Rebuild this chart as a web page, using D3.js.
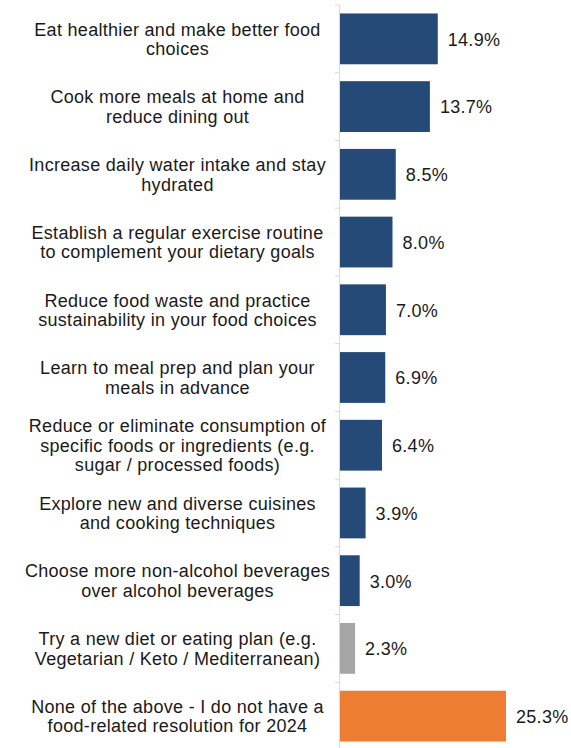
<!DOCTYPE html>
<html>
<head>
<meta charset="utf-8">
<script src="https://cdn.jsdelivr.net/npm/d3@7"></script>
<style>
  html, body { margin: 0; padding: 0; background: #fff; }
  svg { display: block; }
</style>
</head>
<body>
<svg id="chart" width="571" height="748"></svg>
<script>
// Food-related resolutions for 2024 (share of respondents, %)
const categories = [
  "Eat healthier and make better food\nchoices",
  "Cook more meals at home and\nreduce dining out",
  "Increase daily water intake and stay\nhydrated",
  "Establish a regular exercise routine\nto complement your dietary goals",
  "Reduce food waste and practice\nsustainability in your food choices",
  "Learn to meal prep and plan your\nmeals in advance",
  "Reduce or eliminate consumption of\nspecific foods or ingredients (e.g.\nsugar / processed foods)",
  "Explore new and diverse cuisines\nand cooking techniques",
  "Choose more non-alcohol beverages\nover alcohol beverages",
  "Try a new diet or eating plan (e.g.\nVegetarian / Keto / Mediterranean)",
  "None of the above - I do not have a\nfood-related resolution for 2024"
];
const values = [14.9, 13.7, 8.5, 8.0, 7.0, 6.9, 6.4, 3.9, 3.0, 2.3, 25.3];
const groups = ["resolution", "resolution", "resolution", "resolution", "resolution",
                "resolution", "resolution", "resolution", "resolution", "diet", "none"];

const colorFor = d3.scaleOrdinal()
  .domain(["resolution", "diet", "none"])
  .range(["#254a78", "#a6a6a6", "#ed7d31"]);

const svg = d3.select("#chart");
const axisX = 340;
const fontFamily = "'Liberation Sans', Arial, sans-serif";

const x = d3.scaleLinear().domain([0, 25.3]).range([axisX, axisX + 166]);
const y = d3.scaleBand()
  .domain(d3.range(categories.length))
  .range([5, 750])
  .paddingInner(0.25)
  .paddingOuter(0.125);

// Category axis: light vertical line with small outward ticks at band edges
const axisG = svg.append("g");
axisG.append("line")
  .attr("x1", axisX - 0.5).attr("x2", axisX - 0.5)
  .attr("y1", 5).attr("y2", 750)
  .attr("stroke", "#d9d9d9").attr("stroke-width", 1);
const step = y.step();
d3.range(categories.length + 1).forEach(i => {
  const ty = 5 + i * step;
  axisG.append("line")
    .attr("x1", axisX - 5).attr("x2", axisX - 0.5)
    .attr("y1", ty).attr("y2", ty)
    .attr("stroke", "#d9d9d9").attr("stroke-width", 1);
});

// Bars
svg.append("g").selectAll("rect")
  .data(values)
  .join("rect")
  .attr("x", x(0))
  .attr("y", (d, i) => y(i))
  .attr("width", d => x(d) - x(0))
  .attr("height", y.bandwidth())
  .attr("fill", (d, i) => colorFor(groups[i]));

// Value labels
svg.append("g").selectAll("text")
  .data(values)
  .join("text")
  .attr("x", d => x(d) + 10)
  .attr("y", (d, i) => y(i) + y.bandwidth() / 2)
  .attr("dy", "0.38em")
  .attr("font-family", fontFamily)
  .attr("font-size", 18)
  .attr("letter-spacing", 0.3)
  .attr("fill", "#1a1a1a")
  .text(d => d.toFixed(1) + "%");

// Category labels, centered, multi-line
const lineH = 19.5;
const labelX = 177.5;
const labelG = svg.append("g")
  .attr("font-family", fontFamily)
  .attr("font-size", 18)
  .attr("letter-spacing", 0.3)
  .attr("fill", "#1a1a1a")
  .attr("text-anchor", "middle");
categories.forEach((c, i) => {
  const lines = c.split("\n");
  const cy = y(i) + y.bandwidth() / 2;
  const t = labelG.append("text")
    .attr("x", labelX)
    .attr("y", cy - (lines.length - 1) * lineH / 2);
  lines.forEach((ln, k) => {
    t.append("tspan")
      .attr("x", labelX)
      .attr("dy", k === 0 ? "0.36em" : lineH)
      .text(ln);
  });
});
</script>
</body>
</html>
